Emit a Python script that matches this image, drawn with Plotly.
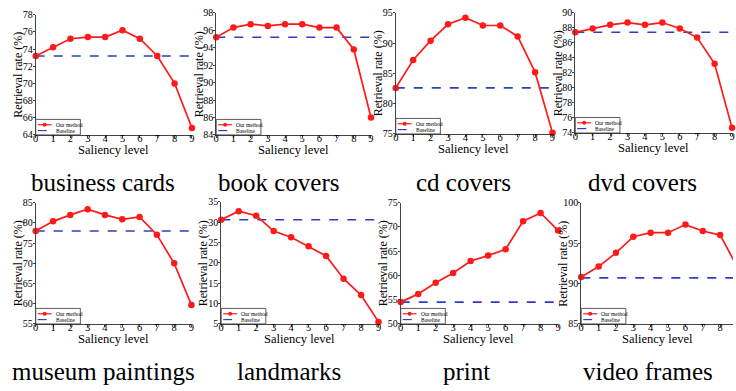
import plotly.graph_objects as go

W, H = 736, 391

levels = list(range(10))
titles = ["business cards", "book covers", "cd covers", "dvd covers",
          "museum paintings", "landmarks", "print", "video frames"]

business_cards = [73.2, 74.2, 75.2, 75.4, 75.4, 76.2, 75.2, 73.2, 70.0, 64.8]
book_covers = [95.2, 96.3, 96.7, 96.5, 96.7, 96.7, 96.3, 96.3, 93.8, 86.0]
cd_covers = [82.6, 87.2, 90.4, 93.1, 94.2, 92.9, 92.9, 91.1, 85.2, 75.2]
dvd_covers = [87.4, 87.9, 88.4, 88.7, 88.4, 88.7, 87.9, 86.7, 83.2, 74.7]
museum_paintings = [78.0, 80.4, 82.0, 83.4, 82.0, 80.9, 81.5, 77.1, 70.0, 59.7]
landmarks = [30.6, 32.7, 31.6, 27.8, 26.3, 24.1, 21.7, 16.1, 12.1, 5.5]
print_set = [54.5, 56.2, 58.5, 60.5, 63.0, 64.1, 65.4, 71.2, 72.9, 69.3]
video_frames = [90.8, 92.1, 93.8, 95.8, 96.3, 96.3, 97.3, 96.5, 96.0, 92.0]

baselines = [73.2, 95.2, 82.6, 87.4, 78.0, 30.6, 54.5, 90.7]

y_ranges = [(64, 78), (84, 98), (75, 95), (74, 90), (55, 85), (5, 35), (50, 75), (85, 100)]
y_dticks = [2, 2, 5, 2, 5, 5, 5, 5]
x_ranges = [(0, 9)] * 7 + [(0, 8.74)]

series = [business_cards, book_covers, cd_covers, dvd_covers,
          museum_paintings, landmarks, print_set, video_frames]

# pixel boxes of plot areas: left, top, right, bottom
boxes = [(33, 9, 190.5, 133), (215, 7, 371, 133), (396, 7, 554, 132), (577, 7, 735, 131),
         (33, 203, 190, 328), (220, 202, 378.6, 328), (401, 203, 559.6, 328), (583, 203, 736, 328)]

caption_pos = [(101, 182), (278, 182), (464, 182), (645, 182),
               (101, 377), (288, 377), (467, 377), (650, 377)]

FONT = "Liberation Serif, Times New Roman, Times, serif"
RED = "#ff1a1a"
BLUE = "#2f3fbf"

def fx(px):
    return px / W

def fy(py):
    return 1 - py / H

fig = go.Figure()
layout = dict(width=W, height=H, margin=dict(l=0, r=0, t=0, b=0),
              paper_bgcolor="white", plot_bgcolor="white", showlegend=False,
              font=dict(family=FONT, color="black"))
annotations = []
shapes = []

for i in range(8):
    n = i + 1
    xa = "x" if n == 1 else f"x{n}"
    ya = "y" if n == 1 else f"y{n}"
    l, t, r, b = boxes[i]
    fig.add_trace(go.Scatter(x=levels, y=[baselines[i]] * len(levels), mode="lines",
                             line=dict(color=BLUE, width=1.6, dash="dash"),
                             xaxis=xa, yaxis=ya, name="Baseline"))
    fig.add_trace(go.Scatter(x=levels, y=series[i], mode="lines+markers",
                             line=dict(color=RED, width=1.7),
                             marker=dict(color=RED, size=6.5),
                             cliponaxis=False,
                             xaxis=xa, yaxis=ya, name="Our method"))
    axkey_x = "xaxis" if n == 1 else f"xaxis{n}"
    axkey_y = "yaxis" if n == 1 else f"yaxis{n}"
    layout[axkey_x] = dict(domain=[fx(l), fx(r)], range=list(x_ranges[i]), anchor=ya,
                           tickmode="linear", tick0=0, dtick=1,
                           showline=True, linecolor="#444", linewidth=1,
                           ticks="outside", ticklen=2, tickcolor="#444",
                           ticklabelstandoff=-9,
                           showgrid=False, zeroline=False,
                           tickfont=dict(family=FONT, size=10.5, color="black"))
    layout[axkey_y] = dict(domain=[fy(b), fy(t)], range=list(y_ranges[i]), anchor=xa,
                           tickmode="linear", tick0=y_ranges[i][0], dtick=y_dticks[i],
                           showline=True, linecolor="#444", linewidth=1,
                           ticks="outside", ticklen=2, tickcolor="#444",
                           ticklabelstandoff=-2,
                           showgrid=False, zeroline=False,
                           tickfont=dict(family=FONT, size=10, color="black"))
    # axis titles
    annotations.append(dict(text="Saliency level", xref="paper", yref="paper",
                            x=fx((l + min(r, l + 157)) / 2), y=fy(b + 16),
                            xanchor="center", yanchor="middle", showarrow=False,
                            font=dict(family=FONT, size=12.5, color="black")))
    annotations.append(dict(text="Retrieval rate (%)", xref="paper", yref="paper",
                            x=fx(l - 18), y=fy((t + b) / 2), textangle=-90,
                            xanchor="center", yanchor="middle", showarrow=False,
                            font=dict(family=FONT, size=12, color="black")))
    # caption
    cx, cy = caption_pos[i]
    annotations.append(dict(text=titles[i], xref="paper", yref="paper",
                            x=fx(cx), y=fy(cy), xanchor="center", yanchor="middle",
                            showarrow=False, font=dict(family=FONT, size=25, color="black")))
    # legend box
    lw, lh = 45, 16
    shapes.append(dict(type="rect", xref="paper", yref="paper",
                       x0=fx(l), x1=fx(l + lw), y0=fy(b), y1=fy(b - lh),
                       line=dict(color="#333", width=0.8), fillcolor="white", layer="above"))
    ly1 = b - lh + 5.5
    ly2 = b - lh + 11.5
    shapes.append(dict(type="line", xref="paper", yref="paper",
                       x0=fx(l + 2), x1=fx(l + 16), y0=fy(ly1), y1=fy(ly1),
                       line=dict(color=RED, width=1.2), layer="above"))
    shapes.append(dict(type="circle", xref="paper", yref="paper",
                       x0=fx(l + 7), x1=fx(l + 11), y0=fy(ly1 - 2), y1=fy(ly1 + 2),
                       line=dict(color=RED, width=0), fillcolor=RED, layer="above"))
    shapes.append(dict(type="line", xref="paper", yref="paper",
                       x0=fx(l + 2), x1=fx(l + 16), y0=fy(ly2), y1=fy(ly2),
                       line=dict(color=BLUE, width=1.2, dash="dash"), layer="above"))
    annotations.append(dict(text="Our method", xref="paper", yref="paper",
                            x=fx(l + 18), y=fy(ly1), xanchor="left", yanchor="middle",
                            showarrow=False, font=dict(family=FONT, size=5.5, color="black")))
    annotations.append(dict(text="Baseline", xref="paper", yref="paper",
                            x=fx(l + 18), y=fy(ly2), xanchor="left", yanchor="middle",
                            showarrow=False, font=dict(family=FONT, size=5.5, color="black")))

layout["annotations"] = annotations
layout["shapes"] = shapes
fig.update_layout(**layout)
fig.write_html("out.html")
